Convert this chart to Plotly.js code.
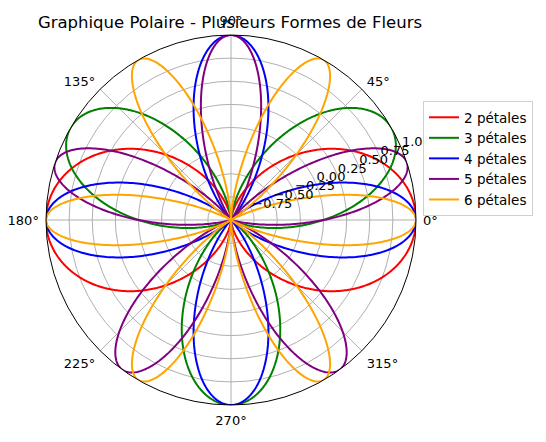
<!DOCTYPE html>
<html>
<head>
<meta charset="utf-8">
<script src="https://cdn.plot.ly/plotly-3.0.1.min.js"></script>
<style>
  html, body { margin: 0; padding: 0; background: white; }
  #chart { width: 546px; height: 442px; }
</style>
</head>
<body>
<div id="chart"></div>
<script>
// rose curves r = f(k * theta)
const seriesNames = ['2 pétales', '3 pétales', '4 pétales', '5 pétales', '6 pétales'];
const petalCounts = [2, 3, 4, 5, 6];
const curveFuncs = ['cos', 'sin', 'cos', 'sin', 'cos'];
const lineColors = ['red', 'green', 'blue', 'purple', 'orange'];

const radialTicks = [-0.75, -0.5, -0.25, 0, 0.25, 0.5, 0.75, 1.0];
const radialLabels = ['−0.75', '−0.50', '−0.25', '0.00', '0.25', '0.50', '0.75', '1.00'];
const angleTicks = [0, 45, 90, 135, 180, 225, 270, 315];
const labelAngle = 22.5;

const nPts = 1000;
const thetaDeg = [];
for (let i = 0; i <= nPts; i++) thetaDeg.push(360 * i / nPts);

const traces = petalCounts.map((k, idx) => ({
    type: 'scatterpolar',
    mode: 'lines',
    name: seriesNames[idx],
    theta: thetaDeg,
    r: thetaDeg.map(t => Math[curveFuncs[idx]](k * t * Math.PI / 180)),
    line: { color: lineColors[idx], width: 2 },
    hoverinfo: 'skip'
}));

// radial tick labels, horizontal, sitting just above-right of the 22.5° ray
traces.push({
    type: 'scatterpolar',
    mode: 'text',
    r: radialTicks,
    theta: radialTicks.map(() => labelAngle),
    text: radialLabels,
    textposition: 'top right',
    textfont: { size: 13, color: 'black' },
    cliponaxis: false,
    showlegend: false,
    hoverinfo: 'skip'
});

const layout = {
    width: 546,
    height: 442,
    paper_bgcolor: 'white',
    margin: { t: 0, b: 0, l: 0, r: 0 },
    font: { family: 'DejaVu Sans, sans-serif', size: 13, color: 'black' },
    title: {
        text: 'Graphique Polaire - Plusieurs Formes de Fleurs',
        font: { size: 16.5, color: 'black' },
        x: 230 / 546, xanchor: 'center',
        y: 1 - 22 / 442, yanchor: 'middle'
    },
    showlegend: true,
    legend: {
        x: 423 / 546, xanchor: 'left',
        y: 1 - 101 / 442, yanchor: 'top',
        bgcolor: 'white',
        bordercolor: '#d0d0d0',
        borderwidth: 1,
        font: { size: 13.5 },
        tracegroupgap: 0
    },
    polar: {
        domain: { x: [46 / 546, 416 / 546], y: [1 - 405 / 442, 1 - 35 / 442] },
        bgcolor: 'white',
        radialaxis: {
            range: [-1, 1],
            tickvals: radialTicks,
            showticklabels: false,
            angle: labelAngle,
            showline: false,
            ticks: '',
            gridcolor: '#b0b0b0',
            gridwidth: 1
        },
        angularaxis: {
            tickvals: angleTicks,
            ticktext: angleTicks.map(a => a + '°'),
            direction: 'counterclockwise',
            rotation: 0,
            ticks: 'outside',
            ticklen: 4,
            tickcolor: 'rgba(0,0,0,0)',
            showline: true,
            linecolor: 'black',
            linewidth: 1,
            gridcolor: '#b0b0b0',
            gridwidth: 1,
            tickfont: { size: 13 }
        }
    }
};

Plotly.newPlot('chart', traces, layout, { displayModeBar: false, staticPlot: true });
</script>
</body>
</html>
